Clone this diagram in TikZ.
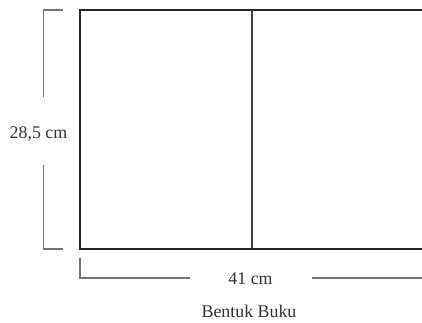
\documentclass[tikz,border=0pt]{standalone}
\usepackage{fontspec}
\setmainfont{Liberation Serif}
\tikzset{
  x=0.75pt,y=-0.75pt,
  sheet/.style={draw=black!85,line width=1.5pt},
  fold/.style={draw=black!75,line width=1.9pt},
  dimline/.style={draw=black!55,line width=1pt},
  lab/.style={text=black!80,font=\fontsize{13.4pt}{15pt}\selectfont,inner sep=0pt,anchor=center},
  captiontext/.style={text=black!80,font=\fontsize{13.4pt}{15pt}\selectfont,inner sep=0pt,anchor=center}
}
\begin{document}
\begin{tikzpicture}
\useasboundingbox (0,0) rectangle (422,322);
\coordinate (tl) at (80.2,10);
\coordinate (bl) at (80.2,249);
\coordinate (tr) at (422,10);
\coordinate (br) at (422,249);
\coordinate (ft) at (252,10);
\coordinate (fb) at (252,249);
\draw[fold] (ft) -- (fb);
\draw[sheet] (tr) -- (tl) -- (bl) -- (br);
\node[lab] (h) at (38.5,134) {28,5 cm};
\node[lab] (w) at (250.5,278.5) {41 cm};
\node[captiontext] (c) at (249,311) {Bentuk Buku};
\coordinate (a1) at (63,10);
\coordinate (a2) at (43.2,10);
\coordinate (a3) at (43.2,96.5);
\coordinate (b1) at (43.2,165);
\coordinate (b2) at (43.2,249);
\coordinate (b3) at (63,249);
\coordinate (d1) at (80,258);
\coordinate (d2) at (80,278);
\coordinate (d3) at (190,278);
\coordinate (e1) at (312,278);
\coordinate (e2) at (422,278);
\draw[dimline] (a1) -- (a2) -- (a3);
\draw[dimline] (b1) -- (b2) -- (b3);
\draw[dimline] (d1) -- (d2) -- (d3);
\draw[dimline] (e1) -- (e2);
\end{tikzpicture}
\end{document}
